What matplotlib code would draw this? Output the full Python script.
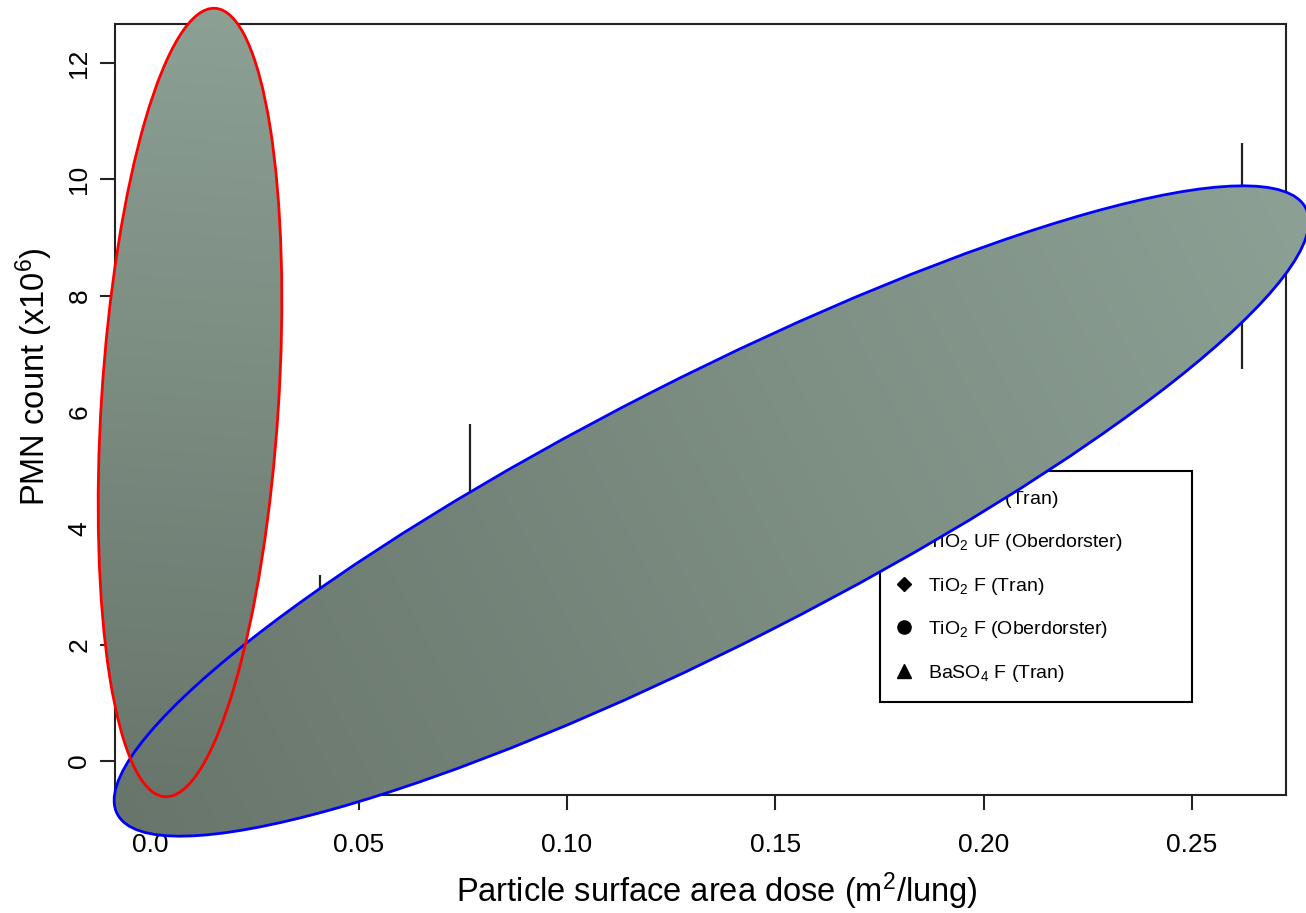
import numpy as np
import matplotlib.pyplot as plt
from matplotlib.patches import Ellipse

plt.rcParams['font.family'] = ['Liberation Sans', 'DejaVu Sans']
plt.rcParams['mathtext.fontset'] = 'custom'
plt.rcParams['mathtext.rm'] = 'Liberation Sans'
plt.rcParams['mathtext.it'] = 'Liberation Sans:italic'
plt.rcParams['mathtext.bf'] = 'Liberation Sans:bold'

# surface area dose (m2/lung) vs PMN count (x10^6), mean and error
uf_tran_x = [0.0408, 0.0767]
uf_tran_y = [1.9, 3.7]
uf_tran_err = [1.3, 2.1]
uf_ober_x = [0.262]
uf_ober_y = [8.68]
uf_ober_err = [1.94]
f_tran_x = [0.003, 0.006, 0.011]
f_tran_y = [0.3, 0.9, 1.6]
f_tran_err = [0.2, 0.3, 0.4]
f_ober_x = [0.009]
f_ober_y = [4.2]
f_ober_err = [0.8]
ba_tran_x = [0.004, 0.008, 0.015]
ba_tran_y = [0.2, 0.6, 1.2]
ba_tran_err = [0.2, 0.3, 0.4]

xticks = [0.0, 0.05, 0.10, 0.15, 0.20, 0.25]
xticklabels = ['0.0', '0.05', '0.10', '0.15', '0.20', '0.25']
yticks = [0, 2, 4, 6, 8, 10, 12]

fig = plt.figure(figsize=(13.06, 9.13), dpi=100)
ax = fig.add_axes([0.0881, 0.1292, 0.8966, 0.8445])

series = [
    (uf_tran_x, uf_tran_y, uf_tran_err, 's', 'none', 'TiO$_2$ UF (Tran)'),
    (uf_ober_x, uf_ober_y, uf_ober_err, 'o', 'none', 'TiO$_2$ UF (Oberdorster)'),
    (f_tran_x, f_tran_y, f_tran_err, 'D', 'black', 'TiO$_2$ F (Tran)'),
    (f_ober_x, f_ober_y, f_ober_err, 'o', 'black', 'TiO$_2$ F (Oberdorster)'),
    (ba_tran_x, ba_tran_y, ba_tran_err, '^', 'black', 'BaSO$_4$ F (Tran)'),
]
handles = []
labels = []
for xs, ys, es, mk, fc, lab in series:
    ms = 7.5 if mk == 'D' else 9.5
    eb = ax.errorbar(xs, ys, yerr=es, fmt=mk, mfc=fc, mec='black', ms=ms,
                     ecolor='#222222', elinewidth=1.6, capsize=0)
    handles.append(eb[0])
    labels.append(lab)

ax.set_xlim(-0.00845, 0.2726)
ax.set_ylim(-0.585, 12.67)
ax.set_xticks(xticks)
ax.set_xticklabels(xticklabels)
ax.set_yticks(yticks)
ax.tick_params(axis='both', direction='out', length=11, width=1.5,
               color='#222222', labelsize=19)
ax.tick_params(axis='x', pad=16)
ax.tick_params(axis='y', pad=6, labelrotation=90)
for lb in ax.get_yticklabels():
    lb.set_va('center')
for sp in ax.spines.values():
    sp.set_linewidth(1.5)
    sp.set_color('#222222')

ax.set_xlabel('Particle surface area dose (m$^2$/lung)', fontsize=23.5)
ax.set_ylabel('PMN count (x10$^6$)', fontsize=23.5)
ax.xaxis.set_label_coords(0.514, -0.098)
ax.yaxis.set_label_coords(-0.0515, 0.542)

leg = ax.legend(handles, labels, loc='lower left',
                bbox_to_anchor=(0.653, 0.1206, 0.267, 0.301),
                mode='expand', borderaxespad=0, fontsize=14, borderpad=0.95,
                labelspacing=1.15, handlelength=0.6, handletextpad=0.95,
                fancybox=False, framealpha=1)
leg.get_frame().set_edgecolor('black')
leg.get_frame().set_linewidth(1.5)

# overlay with the two shaded ellipses, in figure pixel space
ov = fig.add_axes([0, 0, 1, 1])
ov.patch.set_visible(False)
ov.set_axis_off()
dark = np.array([0.41, 0.46, 0.42])
light = np.array([0.55, 0.628, 0.582])


def shaded_ellipse(cx, cy, w, h, ang, edge):
    e = Ellipse((cx, cy), w, h, angle=ang, facecolor='none', edgecolor=edge,
                lw=2.0, zorder=3)
    ov.add_patch(e)
    r = max(w, h) / 2
    gx, gy = np.meshgrid(np.linspace(cx - r, cx + r, 500),
                         np.linspace(cy - r, cy + r, 500))
    t = ((gx - cx) * np.cos(np.radians(ang)) + (gy - cy) * np.sin(np.radians(ang))) / r
    t = np.clip((t + 1) / 2, 0, 1)[..., None]
    img = dark * (1 - t) + light * t
    im = ov.imshow(img, extent=(cx - r, cx + r, cy - r, cy + r), origin='lower',
                   aspect='auto', zorder=2, interpolation='bilinear')
    im.set_clip_path(e)


shaded_ellipse(711.5, 402, 1334, 266, 27, 'blue')
shaded_ellipse(190, 510.5, 790, 177, 86.35, 'red')
ov.set_xlim(0, 1306)
ov.set_ylim(0, 913)

fig.savefig('out.png', dpi=100)
